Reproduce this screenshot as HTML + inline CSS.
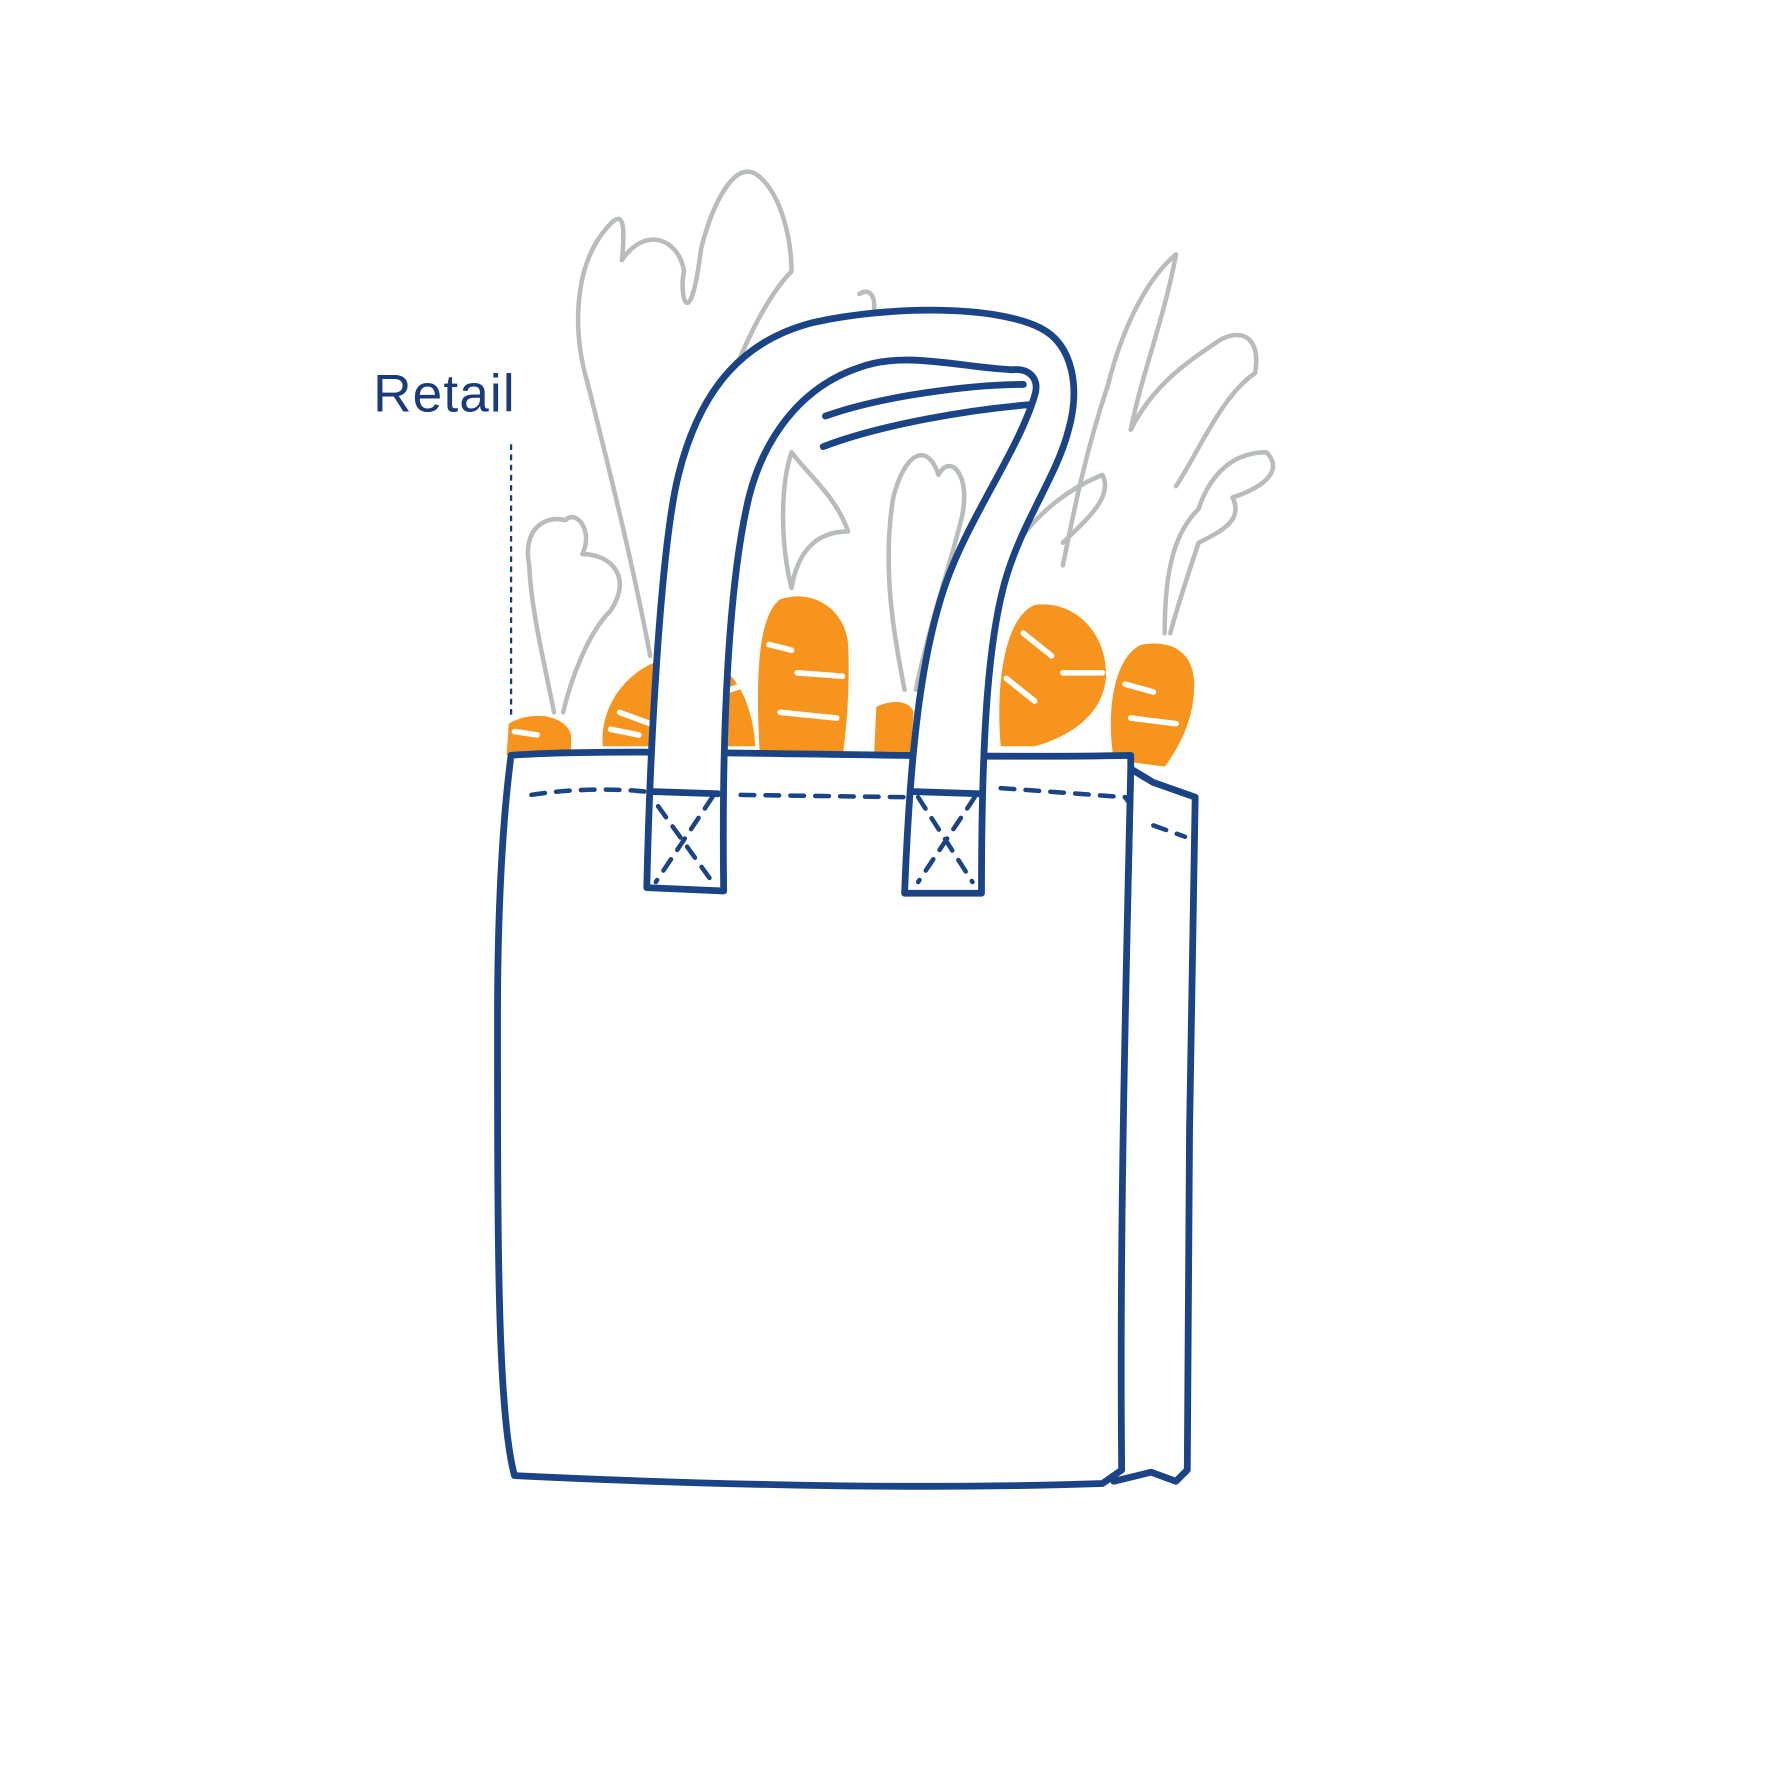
<!DOCTYPE html>
<html><head><style>html,body{margin:0;padding:0;background:#fff}svg{display:block}</style></head>
<body>
<svg width="1773" height="1773" viewBox="0 0 1568 1568" xmlns="http://www.w3.org/2000/svg">
<rect width="1568" height="1568" fill="#fff"/>
<g fill="none" stroke="#b9bcbc" stroke-width="4" stroke-linejoin="round" stroke-linecap="round">
<path d="M490 630 C480 580 470 540 468 500 C462 470 480 455 500 460 C510 450 525 470 515 490 C540 490 560 510 540 540 C520 560 505 600 498 630"/>
<path d="M575 580 C560 500 540 420 520 340 C505 290 510 240 530 210 C545 190 555 180 550 230 C570 200 600 210 605 240 C600 260 610 300 620 220 C630 180 650 140 670 155 C690 170 700 210 700 240 C680 260 660 300 645 340 C630 390 615 450 600 520"/>
<path d="M700 520 C690 480 690 430 700 400 C715 420 740 440 750 470 C720 470 705 490 700 520"/>
<path d="M760 260 C775 250 780 280 760 300"/>
<path d="M800 610 C790 560 780 500 790 440 C800 400 820 390 830 420 C840 400 860 420 850 460 C840 500 820 560 810 610"/>
<path d="M940 500 C950 450 960 400 980 340 C990 300 1010 250 1040 225 C1030 280 1010 330 1000 380 C1020 340 1050 320 1080 300 C1100 290 1115 300 1110 330 C1080 350 1060 400 1040 430"/>
<path d="M1030 560 C1030 500 1040 470 1060 450 C1070 420 1090 400 1120 400 C1135 415 1120 430 1090 440 C1100 460 1080 470 1060 480 C1050 510 1040 540 1035 560"/>
<path d="M900 480 C920 450 950 430 975 420 C985 440 960 460 940 480"/>
</g>
<g fill="#f7941d">
<path d="M448 668 L450 640 C470 628 500 632 505 650 L505 668 Z"/>
<path d="M533 660 C530 620 560 585 600 580 C640 575 665 610 668 660 Z"/>
<path d="M672 668 C668 600 670 545 690 530 C720 520 748 540 750 570 C752 610 748 650 745 670 Z"/>
<path d="M773 668 L775 625 C790 618 805 620 808 630 L805 668 Z"/>
<path d="M885 660 C880 600 890 545 915 535 C950 530 980 560 978 600 C975 630 950 650 915 660 Z"/>
<path d="M985 672 C978 630 985 580 1010 570 C1040 565 1058 580 1056 610 C1055 640 1040 665 1030 678 Z"/>
</g>
<g fill="none" stroke="#fff" stroke-width="5" stroke-linecap="round">
<path d="M548 630 L575 640 M540 645 L565 650 M640 612 L660 605 M680 570 L700 575 M705 595 L745 598 M690 630 L740 635 M905 560 L930 580 M890 600 L915 620 M940 595 L975 595 M995 605 L1020 612 M1000 635 L1040 640 M455 647 L475 650"/>
</g>
<g fill="#fff" stroke="#1a4485" stroke-width="6" stroke-linejoin="round" stroke-linecap="round">
<path d="M1000 680 L1020 692 L1057 705 L1052 1000 L1050 1300 L1040 1310 L1018 1302 L985 1310 Z"/>
<path d="M452 668 C560 660 800 672 1000 668 L1000 680 C995 900 990 1100 992 1300 L975 1312 C800 1318 600 1312 455 1305 C440 1250 440 1100 440 900 C440 800 445 720 452 668 Z"/>
<path d="M728 395 C780 375 860 362 910 358" fill="none"/>
<path d="M730 368 C780 350 860 340 905 340" fill="none"/>
<path d="M572 785 C575 650 585 480 600 420 C620 340 660 300 720 285 C790 270 880 270 920 290 C950 305 955 345 945 380 C935 420 905 460 890 510 C875 560 868 640 868 790 L800 790 C805 660 815 580 835 520 C855 460 900 400 915 350 C920 335 910 325 895 327 C850 325 800 310 760 325 C700 345 670 400 660 450 C645 520 638 640 640 788 Z"/>
<path d="M575 700 L635 702 M805 700 L866 702" fill="none"/>
</g>
<g fill="none" stroke="#1a4485" stroke-width="4" stroke-dasharray="12 10" stroke-linecap="round">
<path d="M470 703 C500 698 540 697 570 700"/>
<path d="M655 703 L800 705"/>
<path d="M885 697 L995 705 L1000 712"/>
<path d="M1020 730 L1048 740"/>
<path d="M582 713 L630 780 M630 705 L580 780"/>
<path d="M812 705 L860 780 M862 705 L812 780"/>
</g>
<line x1="452" y1="393" x2="452" y2="635" stroke="#1a3a7a" stroke-width="2" stroke-dasharray="5 4"/>
<text x="330" y="364" font-family="Liberation Sans, sans-serif" font-size="47" letter-spacing="1" fill="#1a3a7a">Retail</text>
</svg>
</body></html>
